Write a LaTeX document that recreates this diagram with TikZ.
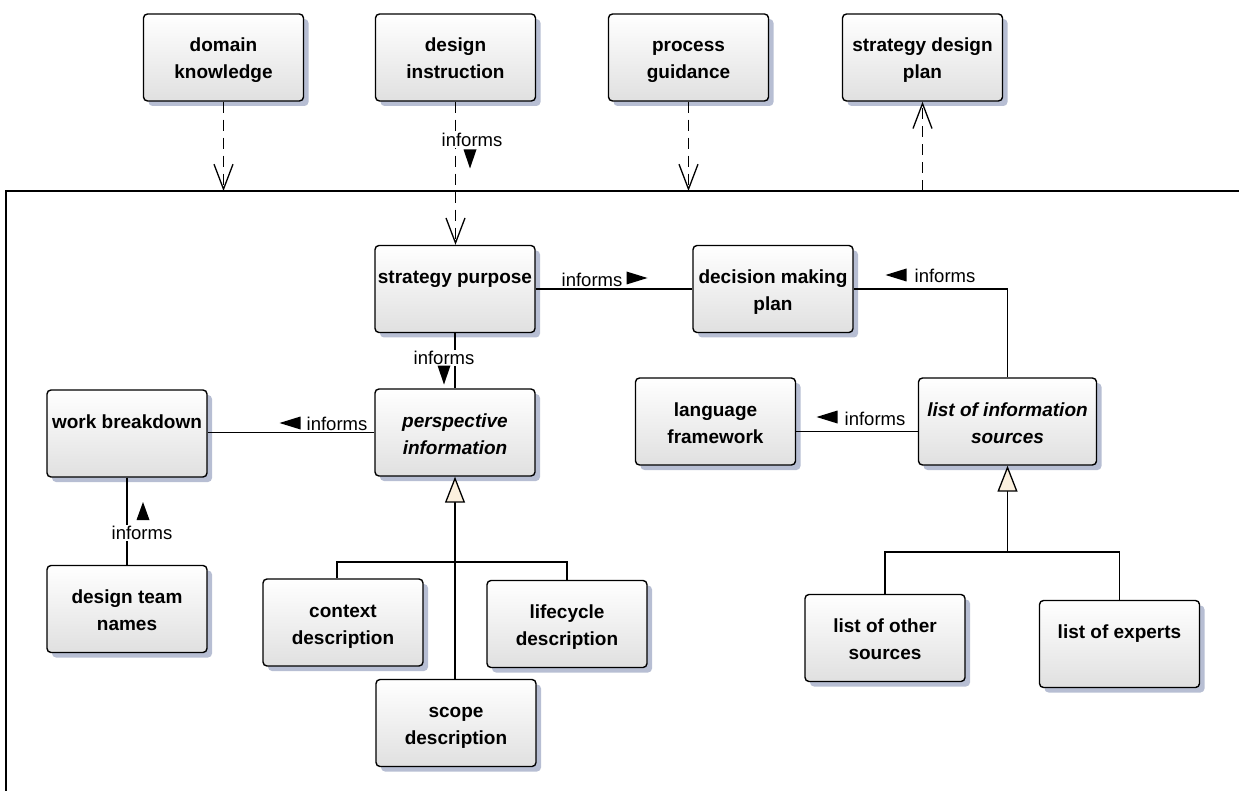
\documentclass[tikz,border=0pt]{standalone}
\usepackage{fontspec}
\setmainfont{Liberation Sans}
\usetikzlibrary{arrows.meta,shadows,calc}

\definecolor{shadowblue}{RGB}{165,174,200}
\definecolor{boxlow}{RGB}{224,224,224}
\definecolor{cream}{RGB}{251,240,222}

% box text: bold, top aligned, first line at a fixed distance from the top edge
\newcommand\btxt[2][158pt]{\parbox[c][87pt][t]{#1}{\vspace*{24pt}\centering\fontsize{19pt}{27pt}\selectfont\bfseries\rule{0pt}{14pt}#2\par}}

\tikzset{
  umlbox/.style={draw=black, line width=1.4pt, rounded corners=4pt,
    top color=white, bottom color=boxlow, inner sep=0pt,
    minimum width=160pt, minimum height=87pt,
    drop shadow={shadow xshift=5pt, shadow yshift=-5pt, fill=shadowblue, opacity=0.8}},
  assoc/.style={draw=black, line width=1.3pt},
  dep/.style={assoc, dash pattern=on 11pt off 7pt,
    -{Straight Barb[length=25pt, width=19pt, line width=1.3pt]}},
  gen/.style={assoc, -{Triangle[length=26pt, width=20pt, fill=cream, line width=1.3pt]}},
  lbl/.style={fill=white, inner sep=1pt, font=\fontsize{18.5pt}{21pt}\selectfont},
  dirmark/.style={fill=black},
}

\begin{document}
\begin{tikzpicture}[x=1pt, y=-1pt]
\useasboundingbox (0,0) rectangle (1239,791);

% package frame
\coordinate (ftop) at (6,191);
\draw[assoc] (6,791) -- (ftop) -- (1239,191);

% outer elements
\node[umlbox] (dk)  at (223.5,57.5) {\btxt{domain\\knowledge}};
\node[umlbox] (di)  at (455.5,57.5) {\btxt{design\\instruction}};
\node[umlbox] (pg)  at (688.5,57.5) {\btxt{process\\guidance}};
\node[umlbox] (sdp) at (922.5,57.5) {\btxt{strategy design\\plan}};

% inner elements
\node[umlbox] (sp)  at (455,289)   {\btxt{strategy purpose}};
\node[umlbox] (dmp) at (773,289)   {\btxt{decision making\\plan}};
\node[umlbox] (pi)  at (455,432.5) {\btxt{\itshape perspective\\information}};
\node[umlbox] (wb)  at (127,433.5) {\btxt{work breakdown}};
\node[umlbox] (dtn) at (127,609)   {\btxt{design team\\names}};
\node[umlbox] (lf)  at (715.5,421.5) {\btxt{language\\framework}};
\node[umlbox, minimum width=178pt] (lis) at (1007.5,421.5) {\btxt[176pt]{\itshape list of information\\sources}};
\node[umlbox] (ctx) at (343,622.5) {\btxt{context\\description}};
\node[umlbox] (lc)  at (567,624)   {\btxt{lifecycle\\description}};
\node[umlbox] (sc)  at (456,723)   {\btxt{scope\\description}};
\node[umlbox] (los) at (885,638)   {\btxt{list of other\\sources}};
\node[umlbox] (loe) at (1119.5,644) {\btxt{list of experts}};

% dependencies across the frame
\draw[dep] (dk.south) -- (dk.south |- ftop);
\draw[dep] (di.south) -- (di.south |- sp.north);
\draw[dep] (pg.south) -- (pg.south |- ftop);
\draw[dep] (sdp.south |- ftop) -- (sdp.south);

% associations
\draw[assoc] (sp.east) -- (dmp.west);
\draw[assoc] (lis.north) |- (dmp.east);
\draw[assoc] (sp.south) -- (pi.north);
\draw[assoc] (pi.west) -- (pi.west -| wb.east);
\draw[assoc] (wb.south) -- (dtn.north);
\coordinate (la) at ($(lis.west)+(0,10)$);
\draw[assoc] (la) -- (la -| lf.east);

% generalizations
\coordinate (pj) at (455,562);
\draw[assoc] ($(ctx.north)+(-6,0)$) |- (pj) -| (lc.north);
\draw[gen] (pi.south |- sc.north) -- (pi.south);
\coordinate (lj) at (1007.5,552);
\draw[assoc] (los.north) |- (lj) -| (loe.north);
\draw[gen] (lis.south |- lj) -- (lis.south);

% association labels with direction marks
\node[lbl] (l1) at (472,140) {informs};
\fill[dirmark] (470,159) ++(-6.5,-9.5) -- ++(13,0) -- ++(-6.5,19) -- cycle;

\node[lbl] (l2) at (592,280) {informs};
\fill[dirmark] (637,278) ++(-10.5,-6.5) -- ++(21,6.5) -- ++(-21,6.5) -- cycle;

\node[lbl] (l3) at (945,276) {informs};
\fill[dirmark] (896,275) ++(10.5,-6.5) -- ++(-21,6.5) -- ++(21,6.5) -- cycle;

\node[lbl] (l4) at (444,358) {informs};
\fill[dirmark] (444,375) ++(-6.5,-9.5) -- ++(13,0) -- ++(-6.5,19) -- cycle;

\node[lbl] (l5) at (337,424) {informs};
\fill[dirmark] (290,423) ++(10.5,-6.5) -- ++(-21,6.5) -- ++(21,6.5) -- cycle;

\node[lbl] (l6) at (142,533) {informs};
\fill[dirmark] (143,511) ++(-6.5,9) -- ++(13,0) -- ++(-6.5,-18) -- cycle;

\node[lbl] (l7) at (875,419) {informs};
\fill[dirmark] (827,417) ++(10.5,-6.5) -- ++(-21,6.5) -- ++(21,6.5) -- cycle;
\end{tikzpicture}
\end{document}
